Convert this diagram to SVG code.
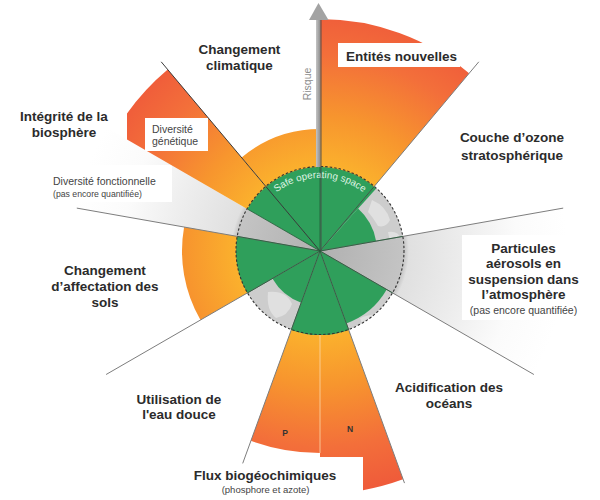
<svg xmlns="http://www.w3.org/2000/svg" width="600" height="500" viewBox="0 0 600 500">
<defs>
<radialGradient id="og" gradientUnits="userSpaceOnUse" cx="320" cy="251" r="245">
<stop offset="0.34" stop-color="#fbb12d"/>
<stop offset="0.55" stop-color="#f7952e"/>
<stop offset="0.8" stop-color="#f36f3a"/>
<stop offset="1" stop-color="#ef5a3a"/>
</radialGradient>
<radialGradient id="gg" gradientUnits="userSpaceOnUse" cx="320" cy="251" r="247">
<stop offset="0" stop-color="#b0b0b0"/>
<stop offset="0.34" stop-color="#c4c4c4"/>
<stop offset="0.36" stop-color="#e0e0e0"/>
<stop offset="0.6" stop-color="#eeeeee"/>
<stop offset="0.8" stop-color="#fbfbfb"/>
<stop offset="1" stop-color="#ffffff"/>
</radialGradient>
<linearGradient id="shaft" x1="0" y1="0" x2="1" y2="0">
<stop offset="0" stop-color="#c4c4c4"/>
<stop offset="1" stop-color="#8a8a8a"/>
</linearGradient>
<clipPath id="globeClip"><circle cx="320" cy="250.5" r="84"/></clipPath>
<path id="arcText" d="M 247 251 A 73 73 0 0 1 393 251"/>
</defs>
<style>
.lbl{font-family:"Liberation Sans",Arial,sans-serif;font-weight:bold;font-size:13.5px;fill:#2b2b2b;text-anchor:middle}
.sm{font-family:"Liberation Sans",Arial,sans-serif;fill:#444}
.box{fill:#ffffff}
.green{fill:#2f9f5b}
.orange{fill:url(#og)}
.grey{fill:url(#gg)}
.ray{stroke:#7d7d7d;stroke-width:1;fill:none}
.inray{stroke:#1f5a35;stroke-width:0.8;fill:none}
</style>
<rect x="0" y="0" width="600" height="500" fill="#ffffff"/>

<g id="globe">
<circle cx="320" cy="250.5" r="84" fill="#cdcdcd"/>
<g clip-path="url(#globeClip)" fill="#e0e0e0">
<path d="M372 200 q14 6 18 20 q-4 8 -12 6 q-6 -10 -10 -14 z"/>
<path d="M388 232 q10 -2 14 8 q-2 10 -10 12 z"/>
<path d="M268 292 q18 -2 24 12 q-4 12 -16 14 q-10 -8 -8 -26 z"/>
<path d="M360 318 q14 -6 26 -2 q-6 12 -22 14 z"/>
</g>
</g>

<g id="aerosols">
<path class="grey" d="M320,251 L533.9,374.5 A247,247 0 0 0 563.2,208.1 Z"/>
<rect class="box" x="462" y="235" width="138" height="85"/>
<text class="lbl" x="523.5" y="252.5">Particules</text>
<text class="lbl" x="523.5" y="268">aérosols en</text>
<text class="lbl" x="523.5" y="283.5">suspension dans</text>
<text class="lbl" x="523.5" y="299">l’atmosphère</text>
<text class="sm" x="523.5" y="313.5" font-size="10.5" text-anchor="middle">(pas encore quantifiée)</text>
</g>

<g id="biosphere-functional">
<path class="grey" d="M320,251 L106.1,127.5 A247,247 0 0 0 76.8,208.1 Z"/>
<rect class="box" x="0" y="165" width="172" height="37"/>
<text class="sm" x="53" y="185" font-size="10.5">Diversité fonctionnelle</text>
<text class="sm" x="53" y="197" font-size="8.7">(pas encore quantifiée)</text>
</g>

<g id="climate">
<path class="orange" d="M320,168 L320,129 A122,122 0 0 0 241.6,157.5 L266.6,187.4 A83,83 0 0 1 320,168 Z"/>
<text class="lbl" x="239.5" y="53.5">Changement</text>
<text class="lbl" x="239.5" y="69.5">climatique</text>
</g>

<g id="novel-entities">
<path class="orange" d="M373.4,187.4 L469.1,73.3 A232,232 0 0 0 320,19 L320,168 A83,83 0 0 1 373.4,187.4 Z"/>
<rect class="box" x="338" y="43" width="122" height="24"/>
<text class="lbl" x="401.5" y="60.5">Entités nouvelles</text>
</g>

<g id="ozone">
<path class="green" d="M320,251 L376.1,241.1 A57,57 0 0 0 358.1,208.6 Z"/>
<text class="lbl" x="512" y="142">Couche d’ozone</text>
<text class="lbl" x="512" y="159.5">stratosphérique</text>
</g>

<g id="land-use">
<path class="orange" d="M238.3,236.6 L184.1,227 A138,138 0 0 0 200.5,320 L248.1,292.5 A83,83 0 0 1 238.3,236.6 Z"/>
<path class="green" d="M320,251 L237.3,236.4 A84,84 0 0 0 247.3,293 Z"/>
<text class="lbl" x="105" y="275">Changement</text>
<text class="lbl" x="105" y="291">d’affectation des</text>
<text class="lbl" x="105" y="307">sols</text>
</g>

<g id="biosphere-genetic">
<path class="orange" d="M266.6,187.4 L167.7,69.5 A237,237 0 0 0 127,113.5 L127,139.6 L248.1,209.5 A83,83 0 0 1 266.6,187.4 Z"/>
<path class="green" d="M320,251 L376.2,188.6 A84,84 0 0 0 247.3,209 Z"/>
<rect class="box" x="145" y="118" width="63" height="33"/>
<text class="sm" x="152" y="132.5" font-size="10.5" fill="#333">Diversité</text>
<text class="sm" x="152" y="145" font-size="10.5" fill="#333">génétique</text>
<text class="lbl" x="64" y="120.5">Intégrité de la</text>
<text class="lbl" x="64" y="136.5">biosphère</text>
</g>

<g id="ocean">
<path class="green" d="M320,251 L346.3,323.4 A77,77 0 0 0 386.7,289.5 Z"/>
<text class="lbl" x="449" y="392">Acidification des</text>
<text class="lbl" x="449" y="408">océans</text>
</g>

<g id="biogeochemical">
<path class="orange" d="M291.6,329 L250.9,440.8 A202,202 0 0 0 320,453 L320,334 A83,83 0 0 1 291.6,329 Z"/>
<path class="orange" d="M320,334 L320,457 L363,457 L363,490.2 A243,243 0 0 0 403.1,479.3 L348.4,329 A83,83 0 0 1 320,334 Z"/>
<path class="green" d="M320,251 L291.3,329.9 A84,84 0 0 0 348.7,329.9 Z"/>
<line x1="320" y1="335" x2="320" y2="453" stroke="#fbd7a8" stroke-width="0.8"/>
<text x="285" y="436" font-family="'Liberation Sans',Arial,sans-serif" font-weight="bold" font-size="8.5" fill="#333" text-anchor="middle">P</text>
<text x="350" y="432" font-family="'Liberation Sans',Arial,sans-serif" font-weight="bold" font-size="8.5" fill="#333" text-anchor="middle">N</text>
<text class="lbl" x="265" y="480">Flux biogéochimiques</text>
<text class="sm" x="265.5" y="492.5" font-size="9.5" text-anchor="middle">(phosphore et azote)</text>
</g>

<g id="freshwater">
<path class="green" d="M320,251 L272.4,278.5 A55,55 0 0 0 301.2,302.7 Z"/>
<text class="lbl" x="179" y="404">Utilisation de</text>
<text class="lbl" x="179" y="419">l'eau douce</text>
</g>

<g id="connectors">
<line class="ray" x1="320" y1="251" x2="478.8" y2="61.8"/>
<line class="ray" x1="320" y1="251" x2="563.2" y2="208.1"/>
<line class="ray" x1="320" y1="251" x2="533.9" y2="374.5"/>
<line class="ray" x1="320" y1="251" x2="404.5" y2="483.1"/>
<line class="ray" x1="320" y1="251" x2="242.7" y2="463.4"/>
<line class="ray" x1="320" y1="251" x2="106.1" y2="374.5"/>
<line class="ray" x1="320" y1="251" x2="76.8" y2="208.1"/>
<line x1="320" y1="251" x2="161.2" y2="61.8" stroke="#3a3a3a" stroke-width="1"/>
<line class="inray" x1="320" y1="251" x2="374" y2="186.7"/>
<line class="inray" x1="320" y1="251" x2="402.7" y2="236.4"/>
<line class="inray" x1="320" y1="251" x2="392.7" y2="293"/>
<line class="inray" x1="320" y1="251" x2="348.7" y2="329.9"/>
<line class="inray" x1="320" y1="251" x2="291.3" y2="329.9"/>
<line class="inray" x1="320" y1="251" x2="247.3" y2="293"/>
<line class="inray" x1="320" y1="251" x2="237.3" y2="236.4"/>
<line class="inray" x1="320" y1="251" x2="247.3" y2="209"/>
<line class="inray" x1="320" y1="251" x2="320" y2="167"/>
</g>

<g id="safe-space">
<circle cx="320" cy="250.5" r="84" fill="none" stroke="#333" stroke-width="1.1" stroke-dasharray="2.5 2"/>
<text font-family="'Liberation Sans',Arial,sans-serif" font-size="9.8" fill="#dff3e3"><textPath href="#arcText" startOffset="50%" text-anchor="middle">Safe operating space</textPath></text>
</g>

<g id="risk-axis">
<rect x="316" y="19" width="4.5" height="148" fill="url(#shaft)"/>
<polygon points="318.5,3 309,20 328.5,20" fill="#a3a3a3"/>
<line x1="321" y1="20" x2="321" y2="251" stroke="#4a4a4a" stroke-width="0.9"/>
<text transform="translate(311,84) rotate(-90)" font-family="'Liberation Sans',Arial,sans-serif" font-size="10.5" fill="#8c8c8c" text-anchor="middle">Risque</text>
</g>
</svg>
